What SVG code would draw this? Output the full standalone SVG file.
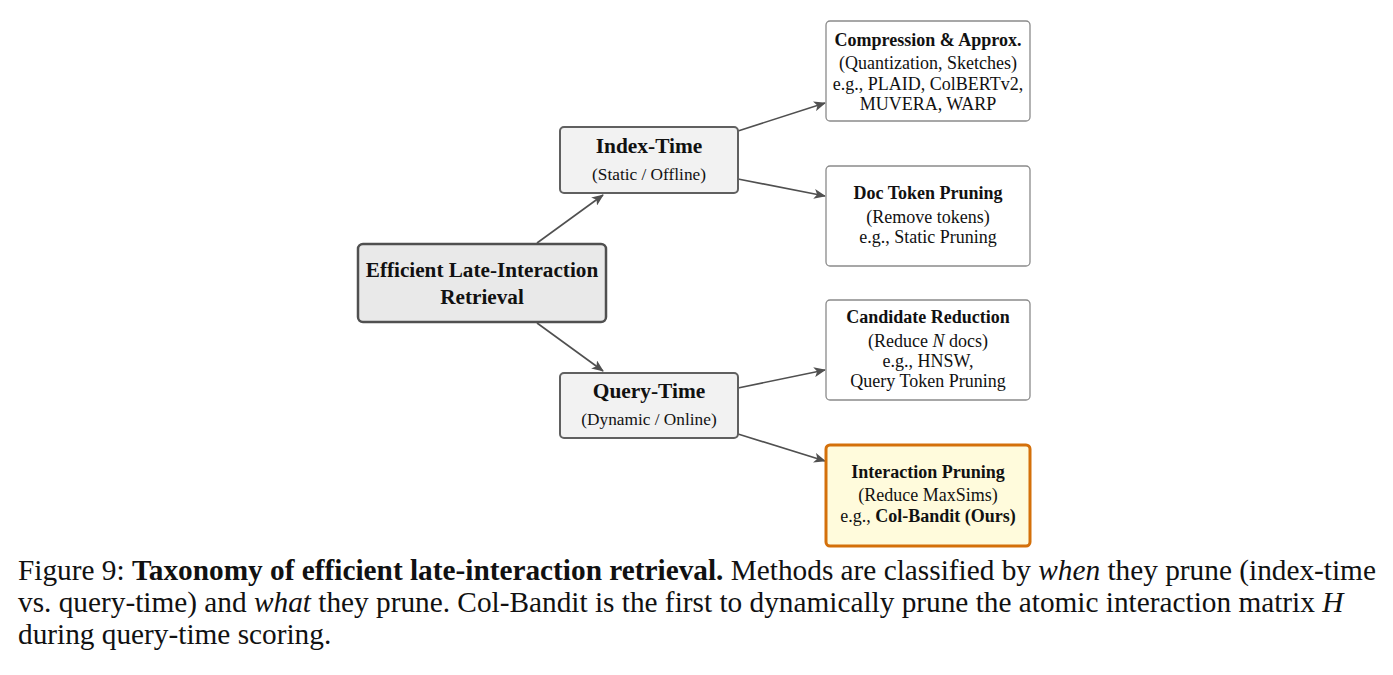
<svg xmlns="http://www.w3.org/2000/svg" width="1393" height="675" viewBox="0 0 1393 675">
<style>
text{font-family:"Liberation Serif","Times New Roman",serif;fill:#111}
.b{font-weight:bold}
.root rect{fill:#e9e9e9;stroke:#505050;stroke-width:2.5}
.mid rect{fill:#f2f2f2;stroke:#606060;stroke-width:2}
.leaf rect{fill:#fff;stroke:#8a8a8a;stroke-width:1.3}
.hl rect{fill:#fffbdc;stroke:#d4700a;stroke-width:3}
.conn line{stroke:#505050;stroke-width:1.6;fill:none}
.t1{font-size:21.2px}
.t2{font-size:21.4px}
.s2{font-size:17.3px}
.lt{font-size:18px}
.cap{font-size:29.3px}
</style>
<defs>
<marker id="ah" viewBox="0 0 12 10" refX="11" refY="5" markerWidth="12" markerHeight="10" markerUnits="userSpaceOnUse" orient="auto">
<path d="M0,0 L12,5 L0,10 L3,5 Z" fill="#505050"/>
</marker>
</defs>
<rect width="1393" height="675" fill="#fff"/>
<g class="conn">
<line x1="537" y1="243" x2="603" y2="195" marker-end="url(#ah)"/>
<line x1="537" y1="323" x2="603" y2="371" marker-end="url(#ah)"/>
<line x1="738" y1="131" x2="825" y2="103" marker-end="url(#ah)"/>
<line x1="738" y1="179" x2="825" y2="196" marker-end="url(#ah)"/>
<line x1="738" y1="388" x2="825" y2="370" marker-end="url(#ah)"/>
<line x1="738" y1="434" x2="825" y2="461" marker-end="url(#ah)"/>
</g>
<g id="root" class="root">
<rect x="358" y="244" width="248" height="78" rx="5"/>
<text class="b t1" x="482" y="277" text-anchor="middle">Efficient Late-Interaction</text>
<text class="b t1" x="482" y="304" text-anchor="middle">Retrieval</text>
</g>
<g id="index-time" class="mid">
<rect x="560" y="127" width="178" height="66" rx="4"/>
<text class="b t2" x="649" y="153" text-anchor="middle">Index-Time</text>
<text class="s2" x="649" y="180" text-anchor="middle">(Static / Offline)</text>
</g>
<g id="query-time" class="mid">
<rect x="560" y="373" width="178" height="65" rx="4"/>
<text class="b t2" x="649" y="398" text-anchor="middle">Query-Time</text>
<text class="s2" x="649" y="425" text-anchor="middle">(Dynamic / Online)</text>
</g>
<g id="compression" class="leaf">
<rect x="826" y="21" width="204" height="100" rx="4"/>
<text class="b lt" x="928" y="46" text-anchor="middle">Compression &amp; Approx.</text>
<text class="lt" x="928" y="69" text-anchor="middle">(Quantization, Sketches)</text>
<text class="lt" x="928" y="90" text-anchor="middle">e.g., PLAID, ColBERTv2,</text>
<text class="lt" x="928" y="110" text-anchor="middle">MUVERA, WARP</text>
</g>
<g id="doc-token" class="leaf">
<rect x="826" y="166" width="204" height="100" rx="4"/>
<text class="b lt" x="928" y="199" text-anchor="middle">Doc Token Pruning</text>
<text class="lt" x="928" y="223" text-anchor="middle">(Remove tokens)</text>
<text class="lt" x="928" y="243" text-anchor="middle">e.g., Static Pruning</text>
</g>
<g id="candidate" class="leaf">
<rect x="826" y="300" width="204" height="100" rx="4"/>
<text class="b lt" x="928" y="323" text-anchor="middle">Candidate Reduction</text>
<text class="lt" x="928" y="347" text-anchor="middle">(Reduce <tspan font-style="italic">N</tspan> docs)</text>
<text class="lt" x="928" y="367" text-anchor="middle">e.g., HNSW,</text>
<text class="lt" x="928" y="387" text-anchor="middle">Query Token Pruning</text>
</g>
<g id="interaction" class="hl">
<rect x="826" y="445" width="204" height="101" rx="4"/>
<text class="b lt" x="928" y="478" text-anchor="middle">Interaction Pruning</text>
<text class="lt" x="928" y="501" text-anchor="middle">(Reduce MaxSims)</text>
<text class="lt" x="928" y="522" text-anchor="middle">e.g., <tspan class="b">Col-Bandit (Ours)</tspan></text>
</g>
<g id="caption">
<text class="cap" x="18" y="580">Figure 9: <tspan class="b">Taxonomy of efficient late-interaction retrieval.</tspan> Methods are classified by <tspan font-style="italic">when</tspan> they prune (index-time</text>
<text class="cap" x="18" y="612">vs. query-time) and <tspan font-style="italic">what</tspan> they prune. Col-Bandit is the first to dynamically prune the atomic interaction matrix <tspan font-style="italic">H</tspan></text>
<text class="cap" x="18" y="644">during query-time scoring.</text>
</g>
</svg>
